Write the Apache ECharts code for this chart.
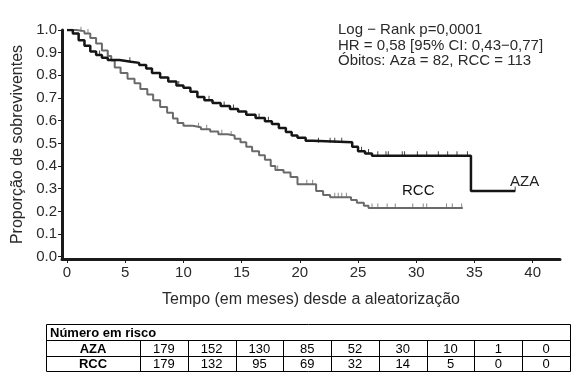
<!DOCTYPE html>
<html>
<head>
<meta charset="utf-8">
<script src="https://cdn.jsdelivr.net/npm/echarts@6/dist/echarts.min.js"></script>
<style>
html,body{margin:0;padding:0;background:#fff;}
#c{width:588px;height:379px;}
</style>
</head>
<body>
<div id="c"></div>
<script>
// ---- Data ----
const azaTime = [0,0.5,1.0,1.5,2.0,2.5,3.0,3.5,4.5,5.5,6.2,6.8,7.3,8.0,8.7,9.4,10.0,10.6,11.2,11.8,12.5,13.2,14.0,14.7,15.4,16.2,17.0,17.6,18.2,18.8,19.3,19.8,20.5,21.1,24.5,25.0,25.6,26.2,34.7,38.5];
const azaSurv = [1.0,0.985,0.955,0.93,0.905,0.89,0.878,0.868,0.86,0.855,0.846,0.83,0.81,0.79,0.773,0.755,0.745,0.728,0.705,0.69,0.678,0.665,0.652,0.64,0.626,0.612,0.598,0.585,0.568,0.55,0.535,0.525,0.512,0.505,0.485,0.465,0.455,0.445,0.29,0.29];
const rccTime = [0,0.8,1.5,2.0,2.5,3.0,3.5,3.8,4.1,4.6,5.2,5.8,6.3,6.9,7.4,8.0,8.6,9.1,9.5,10.0,10.8,11.5,12.3,13.0,13.8,14.4,14.9,15.4,15.9,16.5,17.0,17.5,17.9,18.6,19.2,19.8,21.4,22.0,22.6,24.4,24.9,25.5,25.9,34.0];
const rccSurv = [1.0,0.995,0.985,0.965,0.94,0.91,0.885,0.865,0.835,0.81,0.785,0.765,0.74,0.715,0.69,0.66,0.635,0.61,0.59,0.578,0.571,0.562,0.552,0.54,0.535,0.52,0.505,0.485,0.465,0.448,0.428,0.40,0.382,0.372,0.352,0.32,0.29,0.272,0.262,0.25,0.238,0.225,0.215,0.215];
const azaCensor = [2.8,5.4,9.6,12.2,13.5,14.3,16.5,17.3,21.6,22.6,23.0,23.6,25.3,25.9,26.7,27.4,27.6,28.8,29.0,30.1,30.9,31.9,32.7,33.5,34.4,38.5];
const rccCensor = [1.2,1.8,11.3,12.0,13.3,14.1,18.1,20.6,21.1,23.0,23.3,23.6,24.0,26.2,26.7,27.5,28.2,29.7,30.6,30.9,32.6,33.1,33.9];
const xTicks = [0,5,10,15,20,25,30,35,40];
const yTicks = [0,0.1,0.2,0.3,0.4,0.5,0.6,0.7,0.8,0.9,1.0];
const statLines = ['Log \u2212 Rank p=0,0001','HR = 0,58 [95% CI: 0,43\u22120,77]','\u00d3bitos: Aza = 82, RCC = 113'];
const riskHeader = 'N\u00famero em risco';
const riskGroups = ['AZA','RCC'];
const riskAza = [179,152,130,85,52,30,10,1,0];
const riskRcc = [179,132,95,69,32,14,5,0,0];

// ---- helpers ----
function pairs(t,s){return t.map((v,i)=>[v,s[i]]);}
function survAt(t,s,x){let v=s[0];for(let i=0;i<t.length;i++){if(t[i]<=x)v=s[i];}return v;}
function censorPts(ct,t,s){return ct.map(x=>[x,survAt(t,s,x)]);}

const chart = echarts.init(document.getElementById('c'));
const FONT = '"Liberation Sans", Arial, Helvetica, sans-serif';
const txt = '#2a2a2a';

// table graphics
const tbl = {left:46, top:324, right:570, rowH:[16,16,15], labelW:94};
const nCols = riskAza.length;
const colW = (tbl.right - tbl.left - tbl.labelW)/nCols;
const g = [];
const tH = tbl.rowH[0]+tbl.rowH[1]+tbl.rowH[2];
g.push({type:'rect',shape:{x:tbl.left+0.5,y:tbl.top+0.5,width:tbl.right-tbl.left,height:tH},style:{fill:'none',stroke:'#000',lineWidth:1}});
const y1 = tbl.top+tbl.rowH[0], y2 = y1+tbl.rowH[1], y3 = y2+tbl.rowH[2];
g.push({type:'line',shape:{x1:tbl.left,y1:y1+0.5,x2:tbl.right,y2:y1+0.5},style:{stroke:'#000',lineWidth:1}});
g.push({type:'line',shape:{x1:tbl.left,y1:y2+0.5,x2:tbl.right,y2:y2+0.5},style:{stroke:'#000',lineWidth:1}});
for(let k=0;k<nCols;k++){
  const x = Math.round(tbl.left+tbl.labelW+k*colW)+0.5;
  g.push({type:'line',shape:{x1:x,y1:y1,x2:x,y2:y3},style:{stroke:'#000',lineWidth:1}});
}
g.push({type:'text',x:tbl.left+4,y:tbl.top+tbl.rowH[0]/2+1,style:{text:riskHeader,font:'bold 13px '+FONT,fill:'#000',textVerticalAlign:'middle'}});
[riskAza,riskRcc].forEach((row,r)=>{
  const cy = (r===0? y1 : y2) + tbl.rowH[r+1]/2 + 1;
  g.push({type:'text',x:tbl.left+tbl.labelW/2,y:cy,style:{text:riskGroups[r],font:'bold 13px '+FONT,fill:'#000',textAlign:'center',textVerticalAlign:'middle'}});
  row.forEach((v,k)=>{
    g.push({type:'text',x:tbl.left+tbl.labelW+(k+0.5)*colW,y:cy,style:{text:String(v),font:'13px '+FONT,fill:'#000',textAlign:'center',textVerticalAlign:'middle'}});
  });
});
// stats text
statLines.forEach((s,i)=>{
  g.push({type:'text',x:338,y:30+i*15.5,style:{text:s,font:'15px '+FONT,fill:txt,textVerticalAlign:'middle'}});
});

const option = {
  animation:false,
  backgroundColor:'#fff',
  grid:{left:62,right:28,top:30,bottom:120,containLabel:false,outerBoundsMode:'none'},
  xAxis:{
    type:'value',min:-0.43,max:42.35,
    axisLine:{show:true,onZero:false,lineStyle:{color:'#1a1a1a',width:3}},
    axisTick:{show:true,customValues:xTicks,length:4,lineStyle:{color:'#1a1a1a',width:1}},
    axisLabel:{customValues:xTicks,color:txt,fontSize:15,fontFamily:FONT,margin:6},
    splitLine:{show:false},
    name:'Tempo (em meses) desde a aleatoriza\u00e7\u00e3o',nameLocation:'middle',nameGap:33,
    nameTextStyle:{color:txt,fontSize:16,fontFamily:FONT}
  },
  yAxis:{
    type:'value',min:-0.01,max:1.0,
    axisLine:{show:true,onZero:false,lineStyle:{color:'#1a1a1a',width:3}},
    axisTick:{show:true,customValues:yTicks,length:4,lineStyle:{color:'#1a1a1a',width:1}},
    axisLabel:{customValues:yTicks,color:txt,fontSize:15,fontFamily:FONT,margin:5,formatter:v=>v.toFixed(1)},
    splitLine:{show:false},
    name:'Propor\u00e7\u00e3o de sobreviventes',nameLocation:'middle',nameGap:36,
    nameTextStyle:{color:txt,fontSize:16,fontFamily:FONT}
  },
  series:[
    {type:'line',name:'RCC',step:'end',data:pairs(rccTime,rccSurv),showSymbol:false,lineStyle:{color:'#6a6a6a',width:2},z:2},
    {type:'line',name:'AZA',step:'end',data:pairs(azaTime,azaSurv),showSymbol:false,lineStyle:{color:'#151515',width:2.5},z:3},
    {type:'scatter',data:censorPts(rccCensor,rccTime,rccSurv),symbol:'rect',symbolSize:[1,5],symbolOffset:[0,-2],itemStyle:{color:'#6a6a6a'},z:2},
    {type:'scatter',data:censorPts(azaCensor,azaTime,azaSurv),symbol:'rect',symbolSize:[1,5],symbolOffset:[0,-2],itemStyle:{color:'#151515'},z:3}
  ],
  graphic:g.concat([
    {type:'text',x:402,y:191,style:{text:'RCC',font:'15px '+FONT,fill:'#111',textVerticalAlign:'middle'}},
    {type:'text',x:510,y:182,style:{text:'AZA',font:'15px '+FONT,fill:'#222',textVerticalAlign:'middle'}}
  ])
};
chart.setOption(option);
</script>
</body>
</html>
